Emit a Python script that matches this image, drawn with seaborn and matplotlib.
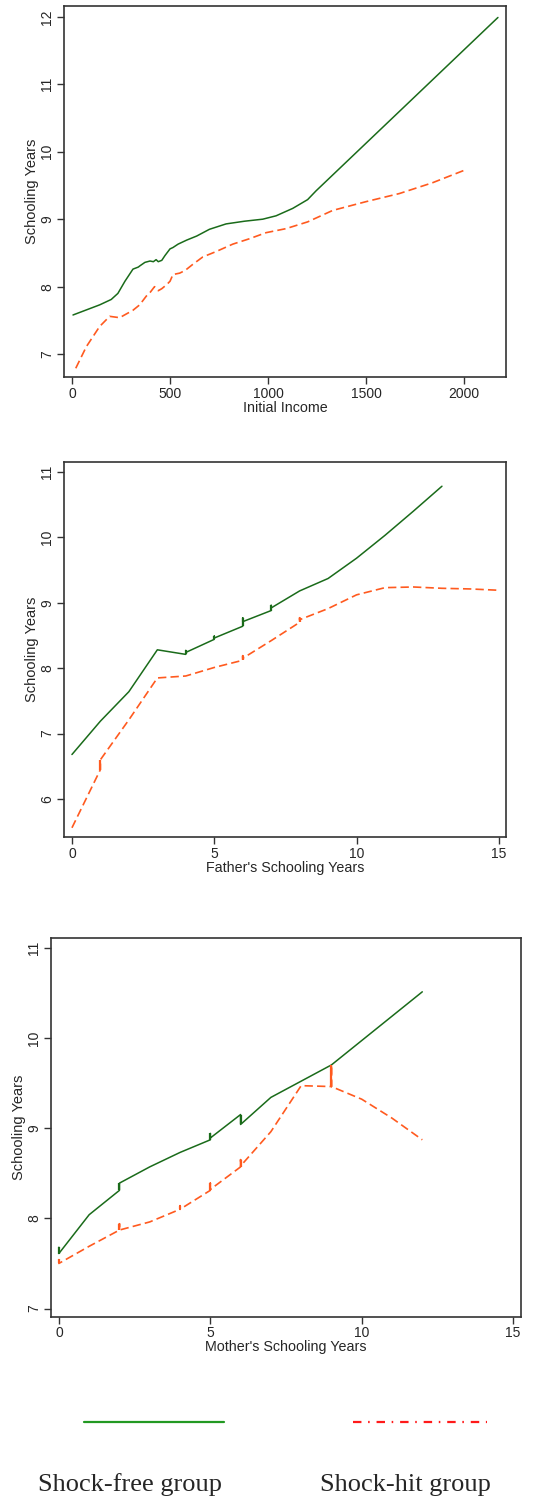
import numpy as np
import pandas as pd
import matplotlib
matplotlib.use("Agg")
import matplotlib.pyplot as plt
import seaborn as sns
from matplotlib.lines import Line2D

# panel 1: initial income
inc_free_x = [5, 141, 200, 234, 270, 311, 338, 347, 372, 398, 415, 429, 440, 458, 474, 500, 515, 541, 585, 636,
              701, 786, 880, 973, 1041, 1126, 1202, 1245, 1700, 2173]
inc_free_y = [7.58, 7.73, 7.81, 7.90, 8.08, 8.26, 8.29, 8.31, 8.36, 8.38, 8.37, 8.40, 8.37, 8.39, 8.46, 8.56, 8.58,
              8.63, 8.69, 8.75, 8.85, 8.93, 8.97, 9.00, 9.05, 9.16, 9.29, 9.42, 10.68, 11.99]
inc_hit_x = [19, 73, 141, 192, 243, 311, 345, 379, 400, 421, 440, 458, 483, 500, 515, 549, 577, 616, 667, 735,
             820, 905, 990, 1092, 1202, 1330, 1500, 1670, 1839, 1997]
inc_hit_y = [6.79, 7.11, 7.41, 7.56, 7.54, 7.65, 7.73, 7.86, 7.92, 8.00, 7.94, 7.97, 8.03, 8.08, 8.18, 8.20, 8.24,
             8.33, 8.44, 8.52, 8.63, 8.71, 8.80, 8.86, 8.96, 9.13, 9.26, 9.38, 9.54, 9.72]

# panel 2: father's schooling (repeated x = tied fitted values)
fa_free_x = [0, 1, 2, 3, 4, 4, 4, 5, 5, 5, 6, 6, 6, 7, 7, 7, 8, 9, 10, 11, 12, 13]
fa_free_y = [6.68, 7.19, 7.64, 8.28, 8.21, 8.27, 8.24, 8.44, 8.49, 8.46, 8.64, 8.77, 8.71, 8.88, 8.96, 8.92,
             9.18, 9.37, 9.68, 10.03, 10.40, 10.78]
fa_hit_x = [0, 1, 1, 2, 3, 4, 5, 6, 6, 6, 7, 8, 8, 8, 9, 10, 11, 12, 13, 14, 15]
fa_hit_y = [5.56, 6.45, 6.60, 7.21, 7.85, 7.88, 8.01, 8.12, 8.19, 8.15, 8.42, 8.70, 8.77, 8.74, 8.91, 9.12,
            9.23, 9.24, 9.22, 9.21, 9.19]

# panel 3: mother's schooling
mo_free_x = [0, 0, 1, 2, 2, 3, 4, 5, 5, 5, 6, 6, 7, 8, 9, 10, 11, 12]
mo_free_y = [7.68, 7.61, 8.04, 8.31, 8.39, 8.57, 8.73, 8.87, 8.94, 8.89, 9.15, 9.04, 9.34, 9.52, 9.70, 9.97,
             10.24, 10.51]
mo_hit_x = [0, 0, 1, 2, 2, 2, 3, 4, 4, 4, 5, 5, 5, 6, 6, 6, 7, 8, 9, 9, 9, 10, 11, 12]
mo_hit_y = [7.55, 7.50, 7.69, 7.87, 7.94, 7.87, 7.96, 8.10, 8.14, 8.10, 8.31, 8.39, 8.32, 8.57, 8.65, 8.58,
            8.96, 9.47, 9.46, 9.70, 9.46, 9.32, 9.11, 8.87]

panels = [
    dict(free=(inc_free_x, inc_free_y), hit=(inc_hit_x, inc_hit_y), xlabel="Initial Income",
         xticks=[0, 500, 1000, 1500, 2000], yticks=[7, 8, 9, 10, 11, 12],
         xlim=(-41, 2214), ylim=(6.66, 12.16), pos=[0.1174, 0.7488, 0.811, 0.2472]),
    dict(free=(fa_free_x, fa_free_y), hit=(fa_hit_x, fa_hit_y), xlabel="Father's Schooling Years",
         xticks=[0, 5, 10, 15], yticks=[6, 7, 8, 9, 10, 11],
         xlim=(-0.28, 15.25), ylim=(5.42, 11.15), pos=[0.1174, 0.4424, 0.811, 0.2498]),
    dict(free=(mo_free_x, mo_free_y), hit=(mo_hit_x, mo_hit_y), xlabel="Mother's Schooling Years",
         xticks=[0, 5, 10, 15], yticks=[7, 8, 9, 10, 11],
         xlim=(-0.26, 15.26), ylim=(6.91, 11.11), pos=[0.0936, 0.1228, 0.8624, 0.2525]),
]

sns.set_style("ticks")
plt.rcParams['font.family'] = ['Liberation Sans', 'DejaVu Sans']

green = "#1a6b1a"
orange = "#ff5a1f"

fig = plt.figure(figsize=(5.45, 15.01), dpi=100)


def ties(ax, xs, ys, color, lw):
    # solid vertical strokes where one x has several fitted values
    d = pd.DataFrame({"x": xs, "y": ys}).groupby("x")["y"].agg(["min", "max", "count"])
    d = d[d["count"] > 1]
    if len(d):
        ax.vlines(d.index, d["min"], d["max"], color=color, lw=lw)


for p in panels:
    ax = fig.add_axes(p["pos"])
    fx, fy = p["free"]
    hx, hy = p["hit"]
    sns.lineplot(x=fx, y=fy, sort=False, estimator=None, color=green, lw=1.1, ax=ax)
    sns.lineplot(x=hx, y=hy, sort=False, estimator=None, color=orange, lw=1.2, ax=ax)
    ax.lines[-1].set_dashes((5, 2.5))
    ties(ax, fx, fy, green, 1.6)
    ties(ax, hx, hy, orange, 1.6)
    ax.set_xlim(*p["xlim"])
    ax.set_ylim(*p["ylim"])
    ax.set_xticks(p["xticks"])
    ax.set_yticks(p["yticks"])
    ax.set_xticklabels([str(t) for t in p["xticks"]])
    ax.set_yticklabels([str(t) for t in p["yticks"]], rotation=90, va="center")
    ax.tick_params(direction="out", length=5, width=1, labelsize=10, pad=2, color="#333333")
    ax.set_xlabel(p["xlabel"], fontsize=10.3, labelpad=0)
    ax.set_ylabel("Schooling Years", fontsize=10.5, labelpad=1)
    for s in ax.spines.values():
        s.set_visible(True)
        s.set_color("#333333")
        s.set_linewidth(1.2)

# legend strip
fig.add_artist(Line2D([84 / 545, 224 / 545], [0.0528, 0.0528], color="#229922", lw=1.6))
fig.add_artist(Line2D([353 / 545, 487 / 545], [0.0528, 0.0528], color="#ff1a1a", lw=1.6,
                      dashes=(3.8, 3, 0.7, 3.1)))
fig.text(130 / 545, 0.0107, "Shock-free group", ha="center", va="center", fontsize=19,
         family=["Liberation Serif", "DejaVu Serif"])
fig.text(405 / 545, 0.0107, "Shock-hit group", ha="center", va="center", fontsize=19,
         family=["Liberation Serif", "DejaVu Serif"])

fig.savefig("out.png", dpi=100)
